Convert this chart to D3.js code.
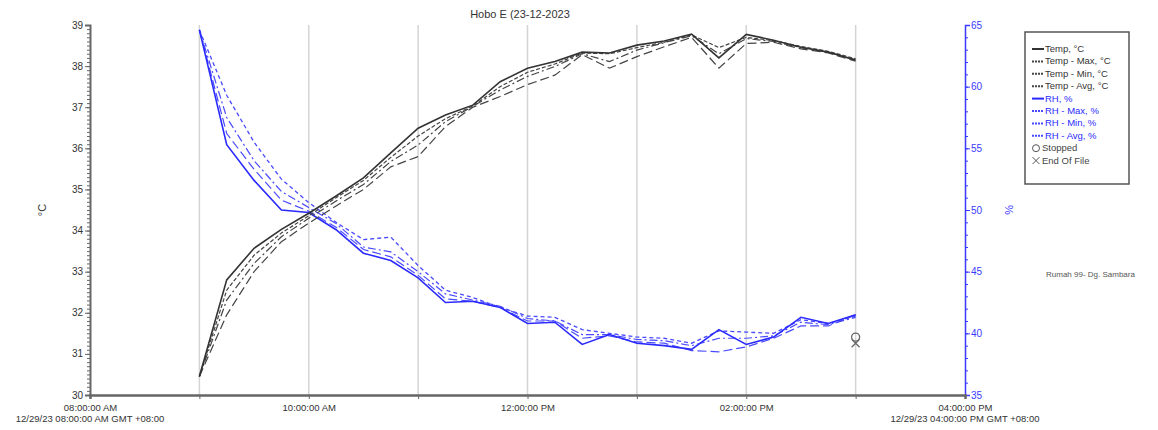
<!DOCTYPE html>
<html>
<head>
    <meta charset="UTF-8">
    <title>Hobo E (23-12-2023</title>
    <style>
        body { margin: 0; background: #fff; }
        text { font-family: "Liberation Sans", Arial, sans-serif; }
        .grid line { stroke: #d4d4d4; stroke-width: 1.5; }
    </style>
</head>
<body>
<script src="https://cdn.jsdelivr.net/npm/d3@7/dist/d3.min.js"></script>
<script>
    // readings every 15 min, 09:00 .. 15:00
    var times = ["09:00","09:15","09:30","09:45","10:00","10:15","10:30","10:45","11:00","11:15","11:30","11:45",
        "12:00","12:15","12:30","12:45","13:00","13:15","13:30","13:45","14:00","14:15","14:30","14:45","15:00"];

    var temp    = [30.45,32.80,33.57,34.03,34.42,34.84,35.28,35.89,36.49,36.81,37.05,37.62,37.95,38.11,38.34,38.32,38.51,38.61,38.78,38.20,38.77,38.63,38.46,38.34,38.15];
    var tempMax = [30.45,32.55,33.40,33.94,34.36,34.80,35.22,35.78,36.30,36.72,37.03,37.50,37.85,38.05,38.32,38.30,38.45,38.58,38.76,38.45,38.70,38.62,38.48,38.36,38.18];
    var tempMin = [30.45,31.95,33.00,33.73,34.18,34.60,35.00,35.55,35.80,36.53,37.00,37.26,37.55,37.78,38.28,37.95,38.23,38.47,38.70,37.95,38.55,38.58,38.42,38.32,38.12];
    var tempAvg = [30.45,32.31,33.20,33.85,34.30,34.72,35.12,35.68,36.08,36.65,37.02,37.42,37.75,37.99,38.30,38.11,38.39,38.57,38.74,38.30,38.67,38.60,38.45,38.34,38.15];

    var rh    = [64.6,55.3,52.4,50.0,49.8,48.4,46.5,45.9,44.5,42.5,42.6,42.1,40.8,40.9,39.1,39.9,39.2,39.0,38.7,40.3,39.1,39.7,41.3,40.8,41.5];
    var rhMax = [64.6,59.3,55.5,52.5,50.6,49.0,47.6,47.8,45.5,43.5,42.9,42.1,41.4,41.3,40.3,40.0,39.7,39.6,39.2,40.2,40.1,40.0,41.1,40.8,41.4];
    var rhMin = [64.6,56.2,53.3,50.8,49.9,48.6,46.8,46.2,44.7,42.8,42.6,42.1,41.0,41.0,39.6,39.8,39.3,39.2,38.6,38.5,38.9,39.6,40.6,40.6,41.5];
    var rhAvg = [64.6,57.5,54.0,51.5,50.2,48.9,47.0,46.6,45.0,43.2,42.7,42.2,41.2,41.0,39.9,39.9,39.5,39.4,39.0,39.6,39.6,39.8,40.9,40.7,41.3];

    var tempTicks = [30,31,32,33,34,35,36,37,38,39];
    var rhTicks = [35,40,45,50,55,60,65];
    var startLabel = "12/29/23 08:00:00 AM GMT +08:00";
    var endLabel = "12/29/23 04:00:00 PM GMT +08:00";
    var stopTime = "15:00", stopRh = 39.7, eofRh = 39.2;

    var parse = d3.timeParse("%m/%d/%y %H:%M");
    var day = "12/29/23 ";

    var margin = {top: 25, left: 90, right: 193, bottom: 35},
        W = 1158, H = 430,
        width = W - margin.left - margin.right,
        height = H - margin.top - margin.bottom;

    var svg = d3.select("body").append("svg")
        .attr("width", W).attr("height", H);
    var g = svg.append("g").attr("transform", "translate(" + margin.left + "," + margin.top + ")");

    var x = d3.scaleTime()
        .domain([parse(day + "08:00"), parse(day + "16:00")])
        .range([0, width]);
    var yT = d3.scaleLinear().domain([30, 39]).range([height, 0]);
    var yR = d3.scaleLinear().domain([35, 65]).range([height, 0]);

    // vertical grid at each hour
    var hours = d3.timeHour.range(parse(day + "09:00"), parse(day + "16:00"));
    g.append("g").attr("class", "grid")
        .selectAll("line").data(hours).enter().append("line")
        .attr("x1", function (d) { return x(d); })
        .attr("x2", function (d) { return x(d); })
        .attr("y1", 0).attr("y2", height);

    // left axis
    var leftMinor = g.append("g")
        .call(d3.axisLeft(yT).ticks(90).tickSize(3).tickFormat(""));
    leftMinor.selectAll("line").attr("stroke", "#666");
    leftMinor.select(".domain").remove();
    var left = g.append("g")
        .call(d3.axisLeft(yT).tickValues(tempTicks).tickSize(5).tickFormat(d3.format("d")));
    left.select(".domain").attr("stroke", "#666").attr("stroke-width", 2);
    left.selectAll("line").attr("stroke", "#666");
    left.selectAll("text").attr("font-size", 10).attr("fill", "#333").attr("x", -7).attr("dy", "0.3em");

    // right axis
    var rightMinor = g.append("g").attr("transform", "translate(" + width + ",0)")
        .call(d3.axisRight(yR).ticks(30).tickSize(3).tickFormat(""));
    rightMinor.selectAll("line").attr("stroke", "#3a3aff");
    rightMinor.select(".domain").remove();
    var right = g.append("g").attr("transform", "translate(" + width + ",0)")
        .call(d3.axisRight(yR).tickValues(rhTicks).tickSize(5).tickFormat(d3.format("d")));
    right.select(".domain").attr("stroke", "#3a3aff").attr("stroke-width", 1.5);
    right.selectAll("line").attr("stroke", "#3a3aff");
    right.selectAll("text").attr("font-size", 10).attr("fill", "#3a3aff").attr("x", 6).attr("dy", "0.3em");

    // bottom axis
    var fmt = d3.timeFormat("%I:%M:%S %p");
    var bottom = g.append("g").attr("transform", "translate(0," + height + ")")
        .call(d3.axisBottom(x).ticks(d3.timeHour.every(1)).tickSize(4)
            .tickFormat(function (d) { return d.getHours() % 2 === 0 ? fmt(d) : ""; }));
    bottom.select(".domain").attr("stroke", "#666").attr("stroke-width", 2.5);
    bottom.selectAll("line").attr("stroke", "#666");
    bottom.selectAll("text").attr("font-size", 9.5).attr("fill", "#333").attr("y", 9);

    g.append("text").attr("x", x(parse(day + "08:00"))).attr("y", height + 27)
        .attr("text-anchor", "middle").attr("font-size", 9.5).attr("fill", "#333").text(startLabel);
    g.append("text").attr("x", x(parse(day + "16:00"))).attr("y", height + 27)
        .attr("text-anchor", "middle").attr("font-size", 9.5).attr("fill", "#333").text(endLabel);

    // axis titles and title
    svg.append("text").attr("transform", "translate(46," + (margin.top + height / 2) + ") rotate(-90)")
        .attr("text-anchor", "middle").attr("font-size", 11).attr("fill", "#333").text("°C");
    svg.append("text").attr("transform", "translate(1005," + (margin.top + height / 2) + ") rotate(90)")
        .attr("text-anchor", "middle").attr("font-size", 11).attr("fill", "#3a3aff").text("%");
    svg.append("text").attr("x", 520).attr("y", 18).attr("text-anchor", "middle")
        .attr("font-size", 11).attr("fill", "#333").text("Hobo E (23-12-2023");
    svg.append("text").attr("x", 1046).attr("y", 277).attr("font-size", 8).attr("fill", "#555")
        .text("Rumah 99- Dg. Sambara");

    // series
    var series = [
        {name: "Temp, °C", vals: temp, y: yT, color: "#333", dash: null, w: 1.6},
        {name: "Temp - Max, °C", vals: tempMax, y: yT, color: "#444", dash: "4,2", w: 1.2},
        {name: "Temp - Min, °C", vals: tempMin, y: yT, color: "#444", dash: "9,4", w: 1.2},
        {name: "Temp - Avg, °C", vals: tempAvg, y: yT, color: "#444", dash: "8,3,2,3", w: 1.2},
        {name: "RH, %", vals: rh, y: yR, color: "#2a2aff", dash: null, w: 1.6},
        {name: "RH - Max, %", vals: rhMax, y: yR, color: "#4a4aff", dash: "4,3", w: 1.3},
        {name: "RH - Min, %", vals: rhMin, y: yR, color: "#4a4aff", dash: "9,4", w: 1.2},
        {name: "RH - Avg, %", vals: rhAvg, y: yR, color: "#4a4aff", dash: "8,3,2,3", w: 1.2}
    ];

    series.slice().reverse().forEach(function (s) {
        var line = d3.line()
            .x(function (d, i) { return x(parse(day + times[i])); })
            .y(function (d) { return s.y(d); });
        g.append("path").datum(s.vals)
            .attr("fill", "none")
            .attr("stroke", s.color)
            .attr("stroke-width", s.w)
            .attr("stroke-dasharray", s.dash)
            .attr("d", line);
    });

    // stopped / end of file markers
    var sx = x(parse(day + stopTime));
    g.append("circle").attr("cx", sx).attr("cy", yR(stopRh)).attr("r", 4)
        .attr("fill", "none").attr("stroke", "#666").attr("stroke-width", 1.3);
    g.append("path").attr("d", "M" + (sx - 4) + "," + (yR(eofRh) - 4) + "L" + (sx + 4) + "," + (yR(eofRh) + 4)
        + "M" + (sx + 4) + "," + (yR(eofRh) - 4) + "L" + (sx - 4) + "," + (yR(eofRh) + 4))
        .attr("stroke", "#666").attr("stroke-width", 1.3);

    // legend
    var lg = svg.append("g").attr("transform", "translate(1025,32)");
    lg.append("rect").attr("width", 104).attr("height", 152)
        .attr("fill", "#fff").attr("stroke", "#555").attr("stroke-width", 1.5);
    var items = lg.selectAll(".item").data(series).enter().append("g")
        .attr("transform", function (d, i) { return "translate(7," + (20 + i * 12.4) + ")"; });
    items.append("line").attr("x1", 0).attr("x2", 12).attr("y1", -3).attr("y2", -3)
        .attr("stroke", function (d) { return d.color; })
        .attr("stroke-width", 2)
        .attr("stroke-dasharray", function (d) { return d.dash ? "2,1" : null; });
    items.append("text").attr("x", 13).attr("font-size", 9.5)
        .attr("fill", function (d) { return d.y === yR ? "#2a2aff" : "#333"; })
        .text(function (d) { return d.name; });

    var ev = lg.append("g").attr("transform", "translate(7," + (20 + 8 * 12.4) + ")");
    ev.append("circle").attr("cx", 4).attr("cy", -3).attr("r", 3.5).attr("fill", "none").attr("stroke", "#555");
    ev.append("text").attr("x", 10).attr("font-size", 9.5).attr("fill", "#444").text("Stopped");
    var ev2 = lg.append("g").attr("transform", "translate(7," + (20 + 9 * 12.4) + ")");
    ev2.append("path").attr("d", "M0.5,-6.5L7.5,0.5M7.5,-6.5L0.5,0.5").attr("stroke", "#555");
    ev2.append("text").attr("x", 10).attr("font-size", 9.5).attr("fill", "#444").text("End Of File");
</script>
</body>
</html>
